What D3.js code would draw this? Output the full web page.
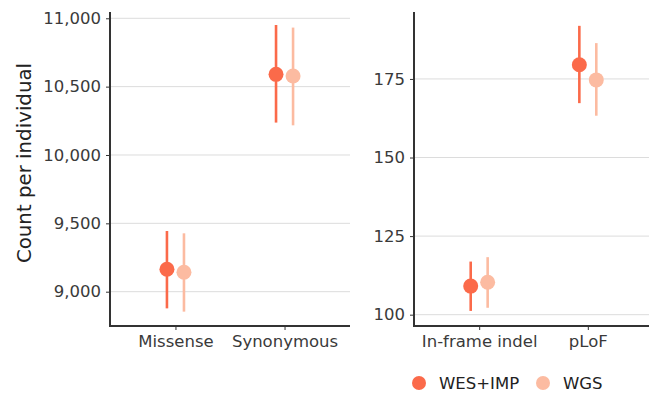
<!DOCTYPE html>
<html>
<head>
<meta charset="utf-8">
<script src="https://cdn.jsdelivr.net/npm/d3@7"></script>
<style>
  body { margin: 0; background: #fff; }
  svg { display: block; font-family: 'DejaVu Sans', sans-serif; }
</style>
</head>
<body>
<div id="chart"></div>
<script>
const seriesNames = ['WES+IMP', 'WGS'];
const seriesColors = ['#FB6A4A', '#FCBBA1'];

const leftCategories = ['Missense', 'Synonymous'];
const leftMean = [[9164, 9142], [10590, 10578]];
const leftLow = [[8878, 8854], [10237, 10217]];
const leftHigh = [[9444, 9427], [10951, 10932]];
const leftTicks = [9000, 9500, 10000, 10500, 11000];

const rightCategories = ['In-frame indel', 'pLoF'];
const rightMean = [[109.1, 110.3], [179.5, 174.7]];
const rightLow = [[101.2, 102.2], [167.3, 163.3]];
const rightHigh = [[116.9, 118.3], [191.9, 186.4]];
const rightTicks = [100, 125, 150, 175];

const w = 649;
const h = 394;
const plotTop = 12;
const plotBottom = 326;
const fontFamily = 'DejaVu Sans, sans-serif';
const tickFont = 16.5;

const svg = d3.select('#chart')
  .append('svg')
  .attr('width', w)
  .attr('height', h);

function drawPanel(opts) {
  const x = d3.scalePoint()
    .domain(opts.categories)
    .range([opts.x0, opts.x1])
    .padding(0.6);
  const y = d3.scaleLinear()
    .domain(opts.yDomain)
    .range([plotBottom, plotTop]);
  const dodge = x.step() * 0.078;

  const g = svg.append('g');

  // grid
  g.selectAll('line.grid')
    .data(opts.ticks)
    .enter()
    .append('line')
    .attr('class', 'grid')
    .attr('x1', opts.x0)
    .attr('x2', opts.x1)
    .attr('y1', d => y(d))
    .attr('y2', d => y(d))
    .attr('stroke', '#dcdcdc')
    .attr('stroke-width', 1);

  // y axis
  const yAxis = d3.axisLeft(y)
    .tickValues(opts.ticks)
    .tickFormat(d3.format(','))
    .tickSize(4)
    .tickPadding(5);
  const ya = g.append('g')
    .attr('transform', 'translate(' + opts.x0 + ',0)')
    .call(yAxis)
    .attr('font-family', fontFamily)
    .attr('font-size', tickFont);
  ya.select('.domain').remove();
  ya.selectAll('line').attr('stroke', '#333');
  ya.selectAll('text').attr('fill', '#3a3a3a');
  ya.append('line')
    .attr('x1', 0).attr('x2', 0)
    .attr('y1', plotTop).attr('y2', plotBottom + 1)
    .attr('stroke', '#333')
    .attr('stroke-width', 2);

  // x axis
  const xAxis = d3.axisBottom(x)
    .tickSize(4)
    .tickPadding(5);
  const xa = g.append('g')
    .attr('transform', 'translate(0,' + plotBottom + ')')
    .call(xAxis)
    .attr('font-family', fontFamily)
    .attr('font-size', tickFont);
  xa.select('.domain').remove();
  xa.selectAll('line').attr('stroke', '#333');
  xa.selectAll('text').attr('fill', '#3a3a3a');
  xa.append('line')
    .attr('x1', opts.x0 - 1).attr('x2', opts.x1)
    .attr('y1', 0).attr('y2', 0)
    .attr('stroke', '#333')
    .attr('stroke-width', 2);

  // points + error bars
  const rows = [];
  opts.categories.forEach((c, i) => {
    seriesNames.forEach((s, j) => {
      rows.push({
        cat: c, s: j,
        mean: opts.mean[i][j], low: opts.low[i][j], high: opts.high[i][j]
      });
    });
  });

  const marks = g.selectAll('g.mark')
    .data(rows)
    .enter()
    .append('g')
    .attr('transform', d => 'translate(' + (x(d.cat) + (d.s === 0 ? -dodge : dodge)) + ',0)');

  marks.append('line')
    .attr('y1', d => y(d.low))
    .attr('y2', d => y(d.high))
    .attr('stroke', d => seriesColors[d.s])
    .attr('stroke-width', 2.6);

  marks.append('circle')
    .attr('cy', d => y(d.mean))
    .attr('r', 7.5)
    .attr('fill', d => seriesColors[d.s]);
}

drawPanel({
  categories: leftCategories, mean: leftMean, low: leftLow, high: leftHigh,
  ticks: leftTicks, yDomain: [8749, 11046], x0: 110, x1: 350
});

drawPanel({
  categories: rightCategories, mean: rightMean, low: rightLow, high: rightHigh,
  ticks: rightTicks, yDomain: [96.4, 196.3], x0: 414, x1: 653
});

// y title
svg.append('text')
  .attr('transform', 'translate(31,163) rotate(-90)')
  .attr('text-anchor', 'middle')
  .style('font-size', '19.8px')
  .attr('fill', '#222')
  .text('Count per individual');

// legend
const legendX = [419, 543];
const legend = svg.selectAll('g.legend')
  .data(seriesNames)
  .enter()
  .append('g')
  .attr('transform', (d, i) => 'translate(' + legendX[i] + ',383)');

legend.append('circle')
  .attr('r', 7)
  .attr('fill', (d, i) => seriesColors[i]);

legend.append('text')
  .attr('x', 20)
  .attr('dy', '.35em')
  .style('font-size', tickFont + 'px')
  .attr('fill', '#222')
  .text(d => d);
</script>
</body>
</html>
